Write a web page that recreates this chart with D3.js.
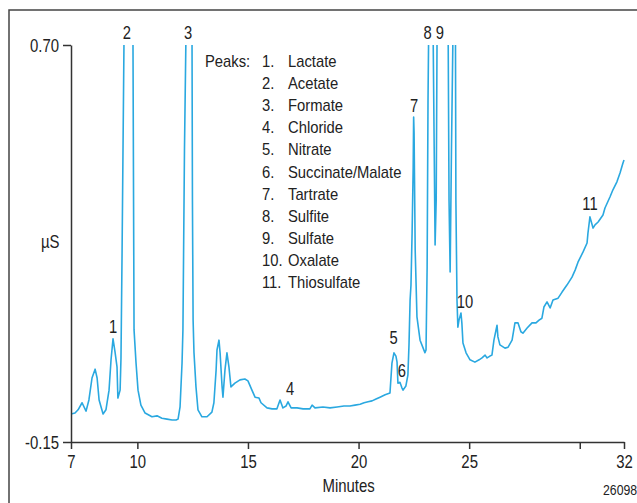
<!DOCTYPE html>
<html>
<head>
<meta charset="utf-8">
<script src="https://cdn.jsdelivr.net/npm/d3@7"></script>
<style>
  body { margin: 0; background: #fff; }
  svg { display: block; font-family: "Liberation Sans", Arial, Helvetica, sans-serif; }
  .axis path, .axis line { stroke: #333; stroke-width: 1.5; }
  .axis text { font-size: 18px; fill: #222; font-family: inherit; }
  .trace { fill: none; stroke: #2aa8e0; stroke-width: 1.6; stroke-linejoin: round; }
  .lbl { font-size: 18px; fill: #222; }
  .legend text { font-size: 17px; fill: #222; }
</style>
</head>
<body>
<svg width="637" height="503"></svg>
<script>
// retention time (min) and conductivity (µS)
var minutes = [7.00, 7.18, 7.32, 7.50, 7.68, 7.81, 7.95, 8.09, 8.18, 8.27, 8.45, 8.58, 8.72, 8.81, 8.90, 8.99, 9.08, 9.12, 9.22, 9.26,
  9.31, 9.40, 9.60, 9.80, 9.85, 9.94, 10.03, 10.16, 10.35, 10.66, 10.89, 11.11, 11.34, 11.57, 11.75, 11.84, 11.93, 12.02, 12.06, 12.13,
  12.20, 12.34, 12.47, 12.49, 12.52, 12.56, 12.65, 12.74, 12.92, 13.15, 13.37, 13.46, 13.56, 13.60, 13.69, 13.74, 13.83, 13.87, 13.96, 14.05,
  14.14, 14.23, 14.41, 14.64, 14.86, 15.00, 15.18, 15.32, 15.50, 15.59, 15.86, 16.09, 16.31, 16.45, 16.58, 16.72, 16.81, 16.95, 17.22, 17.49,
  17.80, 17.90, 18.03, 18.39, 18.71, 19.03, 19.34, 19.61, 19.84, 20.07, 20.25, 20.43, 20.61, 20.79, 20.97, 21.20, 21.42, 21.51, 21.60, 21.69,
  21.74, 21.78, 21.87, 21.96, 22.01, 22.14, 22.23, 22.28, 22.33, 22.37, 22.42, 22.47, 22.49, 22.51, 22.56, 22.64, 22.78, 22.92, 23.00, 23.05,
  23.10, 23.14, 23.17, 23.26, 23.37, 23.42, 23.46, 23.51, 23.55, 23.80, 24.05, 24.09, 24.14, 24.20, 24.27, 24.31, 24.38, 24.40, 24.45, 24.49,
  24.54, 24.63, 24.67, 24.72, 24.86, 25.04, 25.26, 25.45, 25.58, 25.72, 25.81, 25.94, 26.03, 26.12, 26.26, 26.30, 26.39, 26.62, 26.76, 26.94,
  27.07, 27.21, 27.34, 27.43, 27.62, 27.84, 28.02, 28.16, 28.29, 28.38, 28.52, 28.66, 28.79, 29.02, 29.20, 29.42, 29.65, 29.79, 29.92, 30.15,
  30.33, 30.37, 30.46, 30.60, 30.69, 30.83, 31.05, 31.14, 31.37, 31.50, 31.68, 31.82, 31.95, 32.00];

var microS = [-0.090, -0.088, -0.081, -0.066, -0.084, -0.060, -0.013, 0.006, -0.013, -0.060, -0.090, -0.081, -0.039, 0.026, 0.071, 0.043, 0.011, -0.056, -0.039, 0.030,
  0.261, 0.73, 1.20, 0.73, 0.090, 0.019, -0.039, -0.071, -0.088, -0.096, -0.094, -0.099, -0.101, -0.103, -0.103, -0.101, -0.075, 0.019, 0.090, 0.475,
  0.73, 1.30, 0.73, 0.368, 0.111, 0.041, -0.032, -0.081, -0.096, -0.096, -0.086, -0.066, 0.004, 0.047, 0.068, 0.041, -0.032, -0.054, 0.004, 0.041,
  0.011, -0.032, -0.024, -0.017, -0.015, -0.019, -0.039, -0.054, -0.056, -0.066, -0.077, -0.079, -0.079, -0.060, -0.077, -0.073, -0.064, -0.077, -0.077, -0.079,
  -0.079, -0.071, -0.077, -0.075, -0.077, -0.075, -0.073, -0.073, -0.071, -0.069, -0.066, -0.064, -0.062, -0.058, -0.054, -0.049, -0.045, 0.019, 0.041, 0.034,
  0.021, -0.024, -0.022, -0.034, -0.039, -0.030, -0.007, 0.058, 0.154, 0.186, 0.297, 0.439, 0.546, 0.512, 0.261, 0.118, 0.068, 0.051, 0.041, 0.047,
  0.225, 0.582, 0.73, 1.20, 0.73, 0.475, 0.272, 0.368, 0.73, 1.50, 0.73, 0.368, 0.214, 0.475, 0.73, 0.90, 0.73, 0.368, 0.154, 0.096,
  0.111, 0.126, 0.105, 0.062, 0.041, 0.026, 0.021, 0.026, 0.030, 0.036, 0.030, 0.034, 0.036, 0.068, 0.100, 0.075, 0.058, 0.051, 0.053, 0.068,
  0.105, 0.105, 0.086, 0.083, 0.094, 0.105, 0.105, 0.111, 0.115, 0.139, 0.150, 0.137, 0.154, 0.158, 0.171, 0.186, 0.203, 0.218, 0.235, 0.257,
  0.276, 0.297, 0.332, 0.308, 0.315, 0.321, 0.336, 0.351, 0.375, 0.390, 0.407, 0.426, 0.447, 0.454];

var xTicks = [7, 10, 15, 20, 25, 30, 32];
var xTickLabels = ["7", "10", "15", "20", "25", "", "32"];
var yTicks = [0.70, -0.15];

var peakNumbers = ["1", "2", "3", "4", "5", "6", "7", "8", "9", "10", "11"];
var peakNames = ["Lactate", "Acetate", "Formate", "Chloride", "Nitrate", "Succinate/Malate",
  "Tartrate", "Sulfite", "Sulfate", "Oxalate", "Thiosulfate"];
// where each peak number is written (minutes, µS at the text baseline)
var peakLabelMin = [8.90, 9.53, 12.29, 16.90, 21.58, 21.96, 22.51, 23.12, 23.68, 24.81, 30.46];
var peakLabelVal = [0.083, 0.713, 0.713, -0.049, 0.060, -0.011, 0.556, 0.713, 0.713, 0.137, 0.347];

var svg = d3.select("svg"),
    margin = {top: 45, right: 13, bottom: 61, left: 71},
    width = +svg.attr("width") - margin.left - margin.right,
    height = +svg.attr("height") - margin.top - margin.bottom;

// the original type is a condensed sans, so squeeze the text sideways
function squeeze(sel, s) {
  sel.each(function() {
    var t = d3.select(this),
        tx = +t.attr("x") || 0,
        ty = +t.attr("y") || 0;
    t.attr("x", 0).attr("y", 0)
      .attr("transform", "translate(" + tx + "," + ty + ") scale(" + s + ",1)");
  });
}

// outer frame, open on the right and bottom
svg.append("path")
    .attr("d", "M9,503V10H637")
    .attr("fill", "none")
    .attr("stroke", "#444")
    .attr("stroke-width", 1.5);

var g = svg.append("g").attr("transform", "translate(" + margin.left + "," + margin.top + ")");

var x = d3.scaleLinear().domain([7, 32]).range([0, width]);
var y = d3.scaleLinear().domain([-0.15, 0.70]).range([height, 0]);

var data = minutes.map(function(m, i) { return {t: m, v: microS[i]}; });

g.append("clipPath").attr("id", "plot")
  .append("rect")
    .attr("x", 0).attr("y", 0)
    .attr("width", width + 2).attr("height", height);

var line = d3.line()
    .x(function(d) { return x(d.t); })
    .y(function(d) { return y(d.v); });

g.append("path")
    .datum(data)
    .attr("class", "trace")
    .attr("clip-path", "url(#plot)")
    .attr("d", line);

g.append("g")
    .attr("class", "axis")
    .attr("transform", "translate(0," + height + ")")
    .call(d3.axisBottom(x).tickValues(xTicks).tickSize(7).tickSizeOuter(0)
      .tickFormat(function(d, i) { return xTickLabels[i]; }))
    .call(function(a) { squeeze(a.selectAll("text").attr("y", 13), 0.83); });

g.append("g")
    .attr("class", "axis")
    .call(d3.axisLeft(y).tickValues(yTicks).tickSize(8).tickSizeOuter(0)
      .tickFormat(function(d) { return d.toFixed(2); }))
    .call(function(a) { squeeze(a.selectAll("text").attr("x", -12).attr("dy", "0.36em"), 0.83); });

g.append("text")
    .attr("class", "lbl")
    .attr("x", -30).attr("y", y(0.28))
    .attr("dy", "0.36em")
    .text("\u00b5S")
    .call(squeeze, 0.83);

g.append("text")
    .attr("class", "lbl")
    .attr("x", x(19.55)).attr("y", height + 50)
    .attr("text-anchor", "middle")
    .text("Minutes")
    .call(squeeze, 0.83);

svg.append("text")
    .attr("x", 603).attr("y", 495)
    .attr("font-size", 15).attr("fill", "#222")
    .text("26098")
    .call(squeeze, 0.82);

g.selectAll(".peak")
    .data(peakNumbers)
  .enter().append("text")
    .attr("class", "lbl")
    .attr("x", function(d, i) { return x(peakLabelMin[i]); })
    .attr("y", function(d, i) { return y(peakLabelVal[i]); })
    .attr("text-anchor", "middle")
    .text(function(d) { return d; })
    .call(squeeze, 0.82);

// legend
var legend = svg.append("g").attr("class", "legend");
legend.append("text").attr("x", 205).attr("y", 67).text("Peaks:");
peakNames.forEach(function(name, i) {
  legend.append("text").attr("x", 262).attr("y", 67 + i * 22.1).text(peakNumbers[i] + ".");
  legend.append("text").attr("x", 288).attr("y", 67 + i * 22.1).text(name);
});
squeeze(legend.selectAll("text"), 0.87);
</script>
</body>
</html>
